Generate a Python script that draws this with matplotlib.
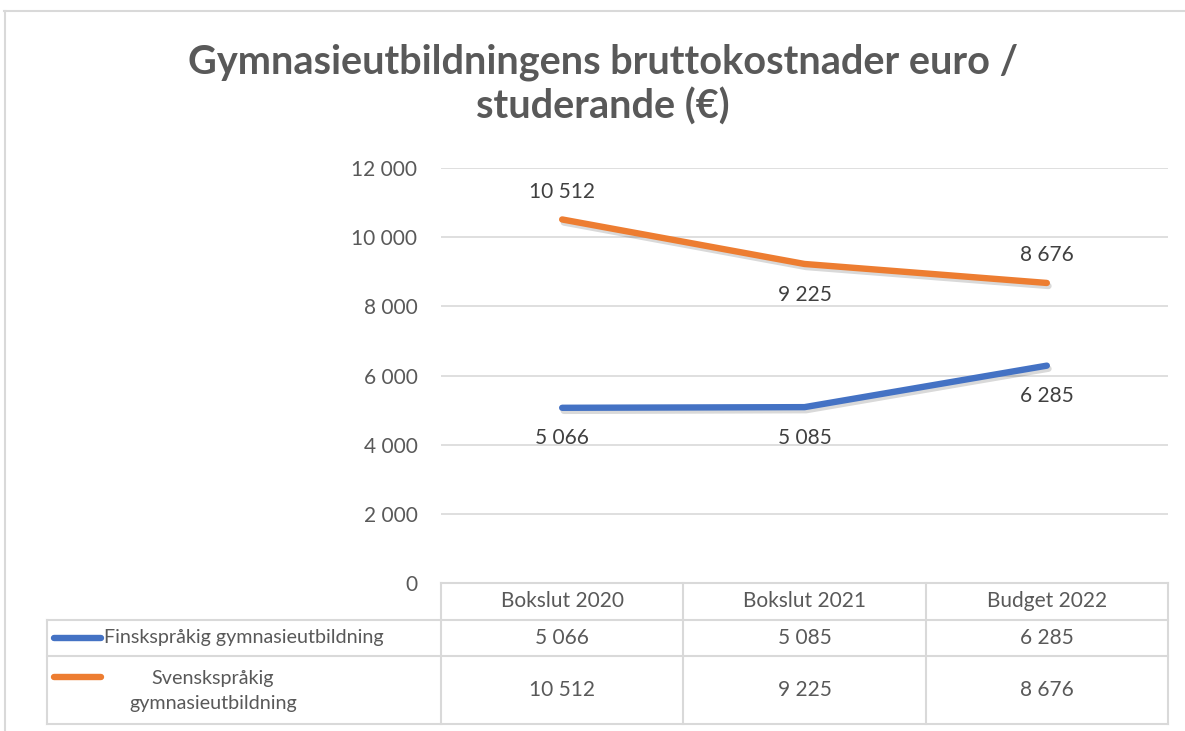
import matplotlib
matplotlib.use("Agg")
import matplotlib.pyplot as plt
from matplotlib.lines import Line2D
import matplotlib.transforms as mtransforms
import matplotlib.patheffects as pe

categories = ["Bokslut 2020", "Bokslut 2021", "Budget 2022"]
series_names = ["Finskspråkig gymnasieutbildning", "Svenskspråkig\ngymnasieutbildning"]
finsk = [5066, 5085, 6285]
svensk = [10512, 9225, 8676]
yticks = [0, 2000, 4000, 6000, 8000, 10000, 12000]
title = "Gymnasieutbildningens bruttokostnader euro /\nstuderande (€)"

BLUE = "#4472C4"
ORANGE = "#ED7D31"
GRID = "#D9D9D9"
TXT = "#595959"
DARK = "#404040"
FONT = ["Lato", "DejaVu Sans"]
plt.rcParams["font.family"] = FONT

W, H = 1185, 731
fig = plt.figure(figsize=(W / 100, H / 100), dpi=100)

def fx(x):
    return x / W

def fy(y):
    return 1 - y / H

def fmt(v):
    return f"{v:,}".replace(",", " ")

# outer frame
fig.add_artist(Line2D([fx(4), 1], [fy(11), fy(11)], transform=fig.transFigure, color=GRID, lw=1.5))
fig.add_artist(Line2D([fx(4.5), fx(4.5)], [0, fy(11)], transform=fig.transFigure, color=GRID, lw=1.5))

t1, t2 = title.split("\n")
fig.text(fx(603), fy(62), t1, ha="center", va="center", fontsize=28.5, fontweight="bold", color=TXT)
fig.text(fx(603), fy(107), t2, ha="center", va="center", fontsize=28.5, fontweight="bold", color=TXT)

ax = fig.add_axes([fx(441), fy(583), fx(1168) - fx(441), fy(168) - fy(583)])
x = list(range(len(categories)))
shadow = [pe.SimpleLineShadow(offset=(1.2, -2.2), shadow_color="#000000", alpha=0.15), pe.Normal()]
ax.plot(x, finsk, color=BLUE, lw=4.6, solid_capstyle="round", solid_joinstyle="round", path_effects=shadow, zorder=3)
ax.plot(x, svensk, color=ORANGE, lw=4.6, solid_capstyle="round", solid_joinstyle="round", path_effects=shadow, zorder=3)
ax.set_xlim(-0.5, len(categories) - 0.5)
ax.set_ylim(0, 12000)
ax.set_yticks(yticks)
ax.set_yticklabels([fmt(v) for v in yticks])
ax.tick_params(axis="y", length=0, pad=17, labelsize=15, labelcolor=TXT)
ax.set_xticks([])
for s in ax.spines.values():
    s.set_visible(False)
ax.grid(axis="y", color=GRID, lw=1.2)
ax.set_axisbelow(True)

# data labels
svensk_pos = ["above", "below", "above"]
finsk_pos = ["below", "below", "below"]
for xi, v, p in zip(x, svensk, svensk_pos):
    off = 20 if p == "above" else -22
    ax.annotate(fmt(v), (xi, v), xytext=(0, off), textcoords="offset points", ha="center", va="center",
                fontsize=15, color=DARK)
for xi, v, p in zip(x, finsk, finsk_pos):
    off = 20 if p == "above" else -22
    ax.annotate(fmt(v), (xi, v), xytext=(0, off), textcoords="offset points", ha="center", va="center",
                fontsize=15, color=DARK)

# data table below the axis
bt = mtransforms.blended_transform_factory(ax.transData, fig.transFigure)
edges = [i - 0.5 for i in range(len(categories) + 1)]
row_y = [583, 620, 656, 724]
fig.add_artist(Line2D([edges[0], edges[-1]], [fy(583), fy(583)], transform=bt, color=GRID, lw=1.5))
for yy in row_y[1:]:
    fig.add_artist(Line2D([fx(47), fx(1168)], [fy(yy), fy(yy)], transform=fig.transFigure, color=GRID, lw=1.5))
for e in edges:
    fig.add_artist(Line2D([e, e], [fy(583), fy(724)], transform=bt, color=GRID, lw=1.5))
fig.add_artist(Line2D([fx(47), fx(47)], [fy(620), fy(724)], transform=fig.transFigure, color=GRID, lw=1.5))

for xi, c in zip(x, categories):
    fig.text(xi, fy(601), c, transform=bt, ha="center", va="center", fontsize=15, color=TXT)
for xi, v in zip(x, finsk):
    fig.text(xi, fy(638), fmt(v), transform=bt, ha="center", va="center", fontsize=15, color=TXT)
for xi, v in zip(x, svensk):
    fig.text(xi, fy(690), fmt(v), transform=bt, ha="center", va="center", fontsize=15, color=TXT)

# legend keys in table
fig.add_artist(Line2D([fx(54), fx(101)], [fy(638), fy(638)], transform=fig.transFigure, color=BLUE, lw=4.6,
                      solid_capstyle="round"))
fig.add_artist(Line2D([fx(54), fx(101)], [fy(677), fy(677)], transform=fig.transFigure, color=ORANGE, lw=4.6,
                      solid_capstyle="round"))
fig.text(fx(104), fy(638), series_names[0], ha="left", va="center", fontsize=14.2, color=TXT)
fig.text(fx(213), fy(691), series_names[1], ha="center", va="center", fontsize=14.2, color=TXT, linespacing=1.6)

fig.savefig("out.png", dpi=100)
